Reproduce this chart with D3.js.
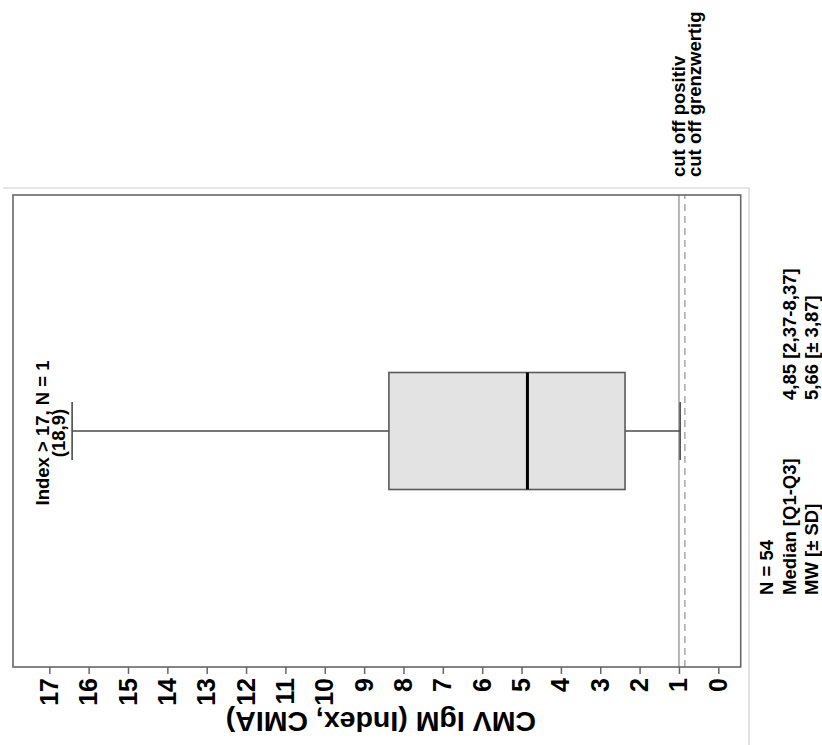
<!DOCTYPE html>
<html>
<head>
<meta charset="utf-8">
<script src="https://cdn.jsdelivr.net/npm/d3@7/dist/d3.min.js"></script>
<style>
body { margin: 0; background: #fff; }
svg { display: block; font-family: "Liberation Sans", Arial, sans-serif; font-weight: bold; }
</style>
</head>
<body>
<svg width="822" height="745"></svg>
<script>
// values
var tickValues = [0, 1, 2, 3, 4, 5, 6, 7, 8, 9, 10, 11, 12, 13, 14, 15, 16, 17];
var boxValues = [0.97, 2.37, 4.85, 8.37, 16.42]; // lower whisker, Q1, median, Q3, upper whisker
var cutoffValues = [1.0, 0.85];
var cutoffLabels = ["cut off positiv", "cut off grenzwertig"];
var outlierLabels = ["Index > 17, N = 1", "(18,9)"];
var statLabels = ["N = 54", "Median [Q1-Q3]", "MW [± SD]"];
var statValues = ["", "4,85 [2,37-8,37]", "5,66 [± 3,87]"];

var svg = d3.select("svg"),
    W = +svg.attr("width"),
    H = +svg.attr("height");

// the chart is drawn upright and then turned a quarter to the left
var g = svg.append("g").attr("transform", "translate(0," + H + ") rotate(-90)");

var frame = {left: 78, right: 550, top: 13, bottom: 740.7};

var y = d3.scaleLinear()
    .domain([0, 17])
    .range([718.3, 49.3]);

// light outer border
g.append("path")
    .attr("d", "M0,749H557V3")
    .attr("fill", "none")
    .attr("stroke", "#cfcfcf")
    .attr("stroke-width", 1.2);

// cut off lines
g.selectAll(".cut")
    .data(cutoffValues)
    .enter().append("line")
    .attr("x1", frame.left)
    .attr("x2", frame.right)
    .attr("y1", function (d) { return y(d); })
    .attr("y2", function (d) { return y(d); })
    .attr("stroke", function (d, i) { return i == 0 ? "#a0a0a0" : "#a8a8a8"; })
    .attr("stroke-width", 1.5)
    .attr("stroke-dasharray", function (d, i) { return i == 0 ? null : "7,5"; });

// plot frame
g.append("rect")
    .attr("x", frame.left)
    .attr("y", frame.top)
    .attr("width", frame.right - frame.left)
    .attr("height", frame.bottom - frame.top)
    .attr("fill", "none")
    .attr("stroke", "#666")
    .attr("stroke-width", 1.6);

// axis
var axis = g.append("g")
    .attr("transform", "translate(" + frame.left + ",0)")
    .call(d3.axisLeft(y).tickValues(tickValues).tickSize(7).tickPadding(4));
axis.select(".domain").remove();
axis.selectAll(".tick line").attr("stroke", "#666").attr("stroke-width", 1.5);
axis.selectAll(".tick text")
    .attr("fill", "#000")
    .style("font-size", "25px")
    .style("font-weight", "bold")
    .style("font-family", "'Liberation Sans', Arial, sans-serif");

g.append("text")
    .attr("transform", "translate(33," + ((frame.top + frame.bottom) / 2 + 4) + ") rotate(-90)")
    .attr("text-anchor", "middle")
    .style("font-size", "28.5px")
    .text("CMV IgM (Index, CMIA)");

// box
var cx = 314, boxW = 117, capW = 58;

g.append("line")
    .attr("x1", cx).attr("x2", cx)
    .attr("y1", y(boxValues[3])).attr("y2", y(boxValues[4]))
    .attr("stroke", "#4a4a4a").attr("stroke-width", 1.6);
g.append("line")
    .attr("x1", cx).attr("x2", cx)
    .attr("y1", y(boxValues[1])).attr("y2", y(boxValues[0]))
    .attr("stroke", "#4a4a4a").attr("stroke-width", 1.6);

g.selectAll(".cap")
    .data([boxValues[0], boxValues[4]])
    .enter().append("line")
    .attr("x1", cx - capW / 2).attr("x2", cx + capW / 2)
    .attr("y1", function (d) { return y(d); })
    .attr("y2", function (d) { return y(d); })
    .attr("stroke", "#4a4a4a").attr("stroke-width", 1.6);

g.append("rect")
    .attr("x", cx - boxW / 2)
    .attr("y", y(boxValues[3]))
    .attr("width", boxW)
    .attr("height", y(boxValues[1]) - y(boxValues[3]))
    .attr("fill", "#e3e3e3")
    .attr("stroke", "#5a5a5a")
    .attr("stroke-width", 1.6);

g.append("line")
    .attr("x1", cx - boxW / 2).attr("x2", cx + boxW / 2)
    .attr("y1", y(boxValues[2])).attr("y2", y(boxValues[2]))
    .attr("stroke", "#000").attr("stroke-width", 3);

// note on the outlier above the scale
g.selectAll(".note")
    .data(outlierLabels)
    .enter().append("text")
    .attr("x", 312)
    .attr("y", function (d, i) { return 49 + i * 16; })
    .attr("text-anchor", "middle")
    .style("font-size", "18.5px")
    .text(function (d) { return d; });

// cut off legend
g.selectAll(".cutlab")
    .data(cutoffLabels)
    .enter().append("text")
    .attr("x", 568)
    .attr("y", function (d, i) { return 685 + i * 16; })
    .style("font-size", "18.5px")
    .text(function (d) { return d; });

// summary
g.selectAll(".statlab")
    .data(statLabels)
    .enter().append("text")
    .attr("x", 150)
    .attr("y", function (d, i) { return 773 + i * 22.5; })
    .style("font-size", "18.5px")
    .text(function (d) { return d; });

g.selectAll(".statval")
    .data(statValues)
    .enter().append("text")
    .attr("x", 345)
    .attr("y", function (d, i) { return 773 + i * 22.5; })
    .style("font-size", "18.5px")
    .text(function (d) { return d; });
</script>
</body>
</html>
